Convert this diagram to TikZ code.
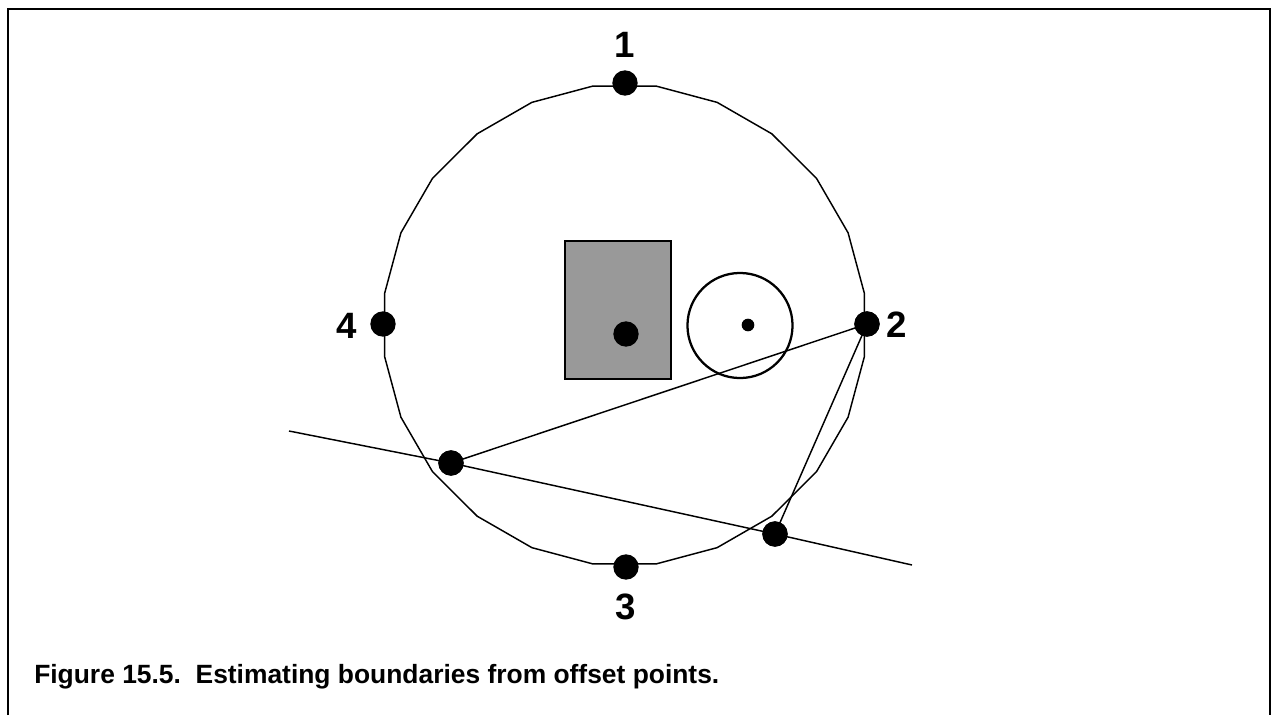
\documentclass[tikz,border=0pt]{standalone}
\usepackage{fontspec}
\setmainfont{Liberation Sans}
\begin{document}
\begin{tikzpicture}[x=0.75pt,y=-0.75pt,
  dot/.style={circle,fill=black,inner sep=0pt,minimum size=19pt},
  smalldot/.style={circle,fill=black,inner sep=0pt,minimum size=9.5pt},
  lbl/.style={font=\fontsize{27.5}{30}\selectfont\bfseries,inner sep=0pt},
  thinline/.style={line width=1.1pt},
  frameline/.style={line width=1.6pt}]
\useasboundingbox (0,0) rectangle (1272,715);
% frame
\draw[frameline] (8,715) -- (8,9) -- (1270,9) -- (1270,715);
% rectangle
\draw[line width=1.1pt,fill={rgb,255:red,153;green,153;blue,153}] (565,241) rectangle (671,379);
% small circle
\draw[line width=1.7pt] (740,325.5) circle[radius=39.4pt];
% polygon boundary
\draw[thinline] plot[samples=25,domain=7.5:367.5,variable=\t] ({624.5+242*cos(\t)},{325+241*sin(\t)}) -- cycle;
% points
\node[dot] (p1) at (625,83) {};
\node[dot] (p2) at (867,324) {};
\node[dot] (p3) at (626,567) {};
\node[dot] (p4) at (383,324) {};
\node[dot] (pa) at (451,463) {};
\node[dot] (pb) at (775,534) {};
\node[dot] (pc) at (626,334) {};
\node[smalldot] (ps) at (748,325) {};
\coordinate (la) at (289,431);
\coordinate (lb) at (912,565);
% lines
\draw[thinline] (la) -- (pa.center) -- (pb.center) -- (lb);
\draw[thinline] (p2.center) -- (pa.center);
\draw[thinline] (p2.center) -- (pb.center);
% redraw dots on top
\foreach \n in {p2,pa,pb}{\fill (\n) circle[radius=9.5pt];}
% labels
\node[lbl] (l1) at (625,45) {1};
\node[lbl] (l2) at (897,325) {2};
\node[lbl] (l3) at (626,607) {3};
\node[lbl] (l4) at (347,326) {4};
% caption
\node[anchor=base west,inner sep=0pt,font=\fontsize{19.8}{22}\selectfont\bfseries] (cap) at (34,683) {Figure 15.5.\ \ Estimating boundaries from offset points.};
\end{tikzpicture}
\end{document}
